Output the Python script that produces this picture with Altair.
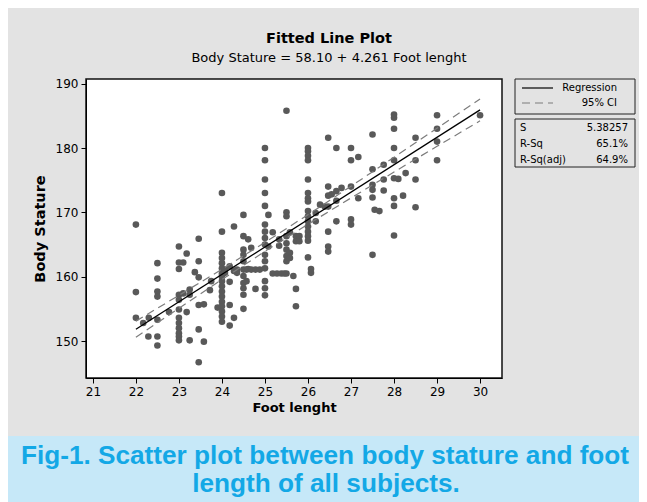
import altair as alt
import pandas as pd

# ---- data ----
foot = [
    22, 22, 22, 22.17, 22.3, 22.29,
    22.5, 22.5, 22.5, 22.5, 22.5, 22.5, 22.5, 22.77,
    23, 23, 23, 23, 23, 23, 23, 23, 23, 23, 23, 23,
    23.1, 23.1, 23.18, 23.18, 23.25, 23.25, 23.25, 23.37,
    23.46, 23.46, 23.46, 23.46, 23.46, 23.46, 23.58, 23.58, 23.72, 23.75, 23.9,
    24, 24, 24, 24, 24, 24, 24, 24, 24, 24, 24, 24, 24, 24, 24, 24, 24,
    24.07, 24.07, 24.18, 24.18, 24.18, 24.18, 24.28, 24.28, 24.28, 24.35, 24.35,
    24.5, 24.5, 24.5, 24.5, 24.5, 24.5, 24.5, 24.5, 24.5, 24.5, 24.5,
    24.57, 24.57, 24.61, 24.61, 24.68, 24.68, 24.78, 24.78, 24.88,
    25, 25, 25, 25, 25, 25, 25, 25, 25, 25, 25, 25, 25, 25, 25,
    25.08, 25.08, 25.18, 25.18, 25.28, 25.33, 25.33, 25.38, 25.45,
    25.5, 25.5, 25.5, 25.5, 25.5, 25.5, 25.5, 25.5, 25.5,
    25.58, 25.58, 25.58, 25.66, 25.72, 25.72, 25.72, 25.72, 25.8, 25.8,
    26, 26, 26, 26, 26, 26, 26, 26, 26, 26, 26, 26, 26, 26, 26, 26,
    26.07, 26.07, 26.18, 26.18, 26.28, 26.39,
    26.47, 26.47, 26.47, 26.47, 26.47, 26.47, 26.47, 26.55,
    26.66, 26.66, 26.66, 26.66, 26.78,
    27, 27, 27, 27, 27, 27.17, 27.17,
    27.5, 27.5, 27.5, 27.5, 27.5, 27.5, 27.55, 27.66, 27.76, 27.76, 27.76,
    28, 28, 28, 28, 28, 28, 28, 28, 28, 28.1, 28.21, 28.27,
    28.5, 28.5, 28.5, 28.5,
    29, 29, 29, 29,
    30,
]
stature = [
    168.1, 157.6, 153.6, 152.8, 153.6, 150.7,
    162.1, 159.7, 157.7, 156.9, 153.3, 150.7, 149.3, 154.5,
    164.7, 162.2, 161.2, 157.2, 156.4, 154.9, 153.6, 152.8, 152.0, 151.2, 150.7, 150.1,
    162.2, 157.4, 163.6, 154.5, 158.0, 157.2, 150.1, 160.7,
    165.9, 162.4, 159.9, 155.6, 151.8, 146.7, 155.7, 149.9, 157.9, 159.3, 155.2,
    173.0, 167.0, 163.7, 162.9, 162.1, 161.3, 160.5, 160.0, 159.3, 158.5, 157.7, 156.9, 156.1, 155.4, 154.6, 153.8, 153.0,
    161.1, 160.6, 161.6, 159.2, 155.6, 152.4, 167.8, 160.9, 153.6, 161.1, 160.6,
    169.6, 166.3, 164.2, 163.4, 162.4, 161.1, 160.1, 159.0, 158.2, 157.2, 155.0,
    161.1, 159.3, 165.8, 161.2, 164.5, 161.1, 161.1, 158.1, 161.1,
    180.0, 178.1, 175.1, 173.0, 171.0, 168.1, 167.0, 166.0, 165.0, 163.4, 162.4, 161.3, 159.3, 158.2, 157.1,
    169.6, 164.7, 166.9, 160.5, 160.5, 165.8, 164.8, 160.5, 160.5,
    185.8, 170.0, 169.4, 166.3, 165.2, 164.2, 163.2, 162.4, 160.5,
    166.9, 163.7, 162.9, 160.1, 166.3, 165.5, 158.1, 155.4, 166.3, 165.5,
    180.0, 179.5, 178.8, 178.1, 175.1, 173.0, 172.2, 171.7, 170.2, 169.4, 168.6, 167.8, 167.0, 166.3, 165.6, 163.0,
    161.2, 160.6, 169.9, 168.6, 171.2, 170.9,
    181.6, 174.0, 172.6, 170.9, 167.0, 164.7, 163.9, 172.8,
    180.0, 173.3, 171.8, 168.6, 173.8,
    180.0, 178.1, 174.0, 168.9, 168.1, 178.6, 172.2,
    182.1, 176.7, 174.3, 173.5, 172.3, 163.4, 170.4, 170.2, 177.4, 175.1, 173.4,
    185.2, 184.7, 183.0, 180.0, 178.1, 175.3, 172.2, 171.0, 166.4, 175.2, 172.6, 176.1,
    181.6, 178.1, 175.1, 170.8,
    185.1, 183.0, 181.0, 178.1,
    185.1,
]

# fitted line: Body Stature = 58.10 + 4.261 Foot lenght
reg_x = [22, 30]
reg_y = [151.84, 185.93]

# 95% CI band
ci_x = [22, 23, 24, 25, 26, 27, 28, 29, 30]
ci_lower = [150.59, 155.10, 159.56, 163.93, 168.14, 172.24, 176.27, 180.26, 184.23]
ci_upper = [153.09, 157.10, 161.16, 165.33, 169.64, 174.06, 178.55, 183.08, 187.63]

x_ticks = [21, 22, 23, 24, 25, 26, 27, 28, 29, 30]
y_ticks = [150, 160, 170, 180, 190]

legend_labels = ["Regression", "95% CI"]
stats_names = ["S", "R-Sq", "R-Sq(adj)"]
stats_values = ["5.38257", "65.1%", "64.9%"]

title_text = "Fitted Line Plot"
subtitle_text = "Body Stature =  58.10 + 4.261 Foot lenght"
caption_lines = ["Fig-1. Scatter plot between body stature and foot", "length of all subjects."]

# ---- chart ----
BG = "#e3e3e3"
FONT = "DejaVu Sans"
W, H = 416, 299

xscale = alt.Scale(domain=[20.84, 30.51], nice=False, zero=False)
yscale = alt.Scale(domain=[144.25, 190.73], nice=False, zero=False)

pts = pd.DataFrame({"foot": foot, "stature": stature})
points = alt.Chart(pts).mark_circle(size=44, color="#595959", opacity=1).encode(
    x=alt.X("foot:Q", scale=xscale,
            axis=alt.Axis(values=x_ticks, title="Foot lenght", titlePadding=4)),
    y=alt.Y("stature:Q", scale=yscale,
            axis=alt.Axis(values=y_ticks, title="Body Stature", titlePadding=8,
                          titleFontSize=14.5)),
)

reg = alt.Chart(pd.DataFrame({"foot": reg_x, "stature": reg_y})).mark_line(
    color="black", strokeWidth=1.3).encode(x=alt.X("foot:Q", scale=xscale), y=alt.Y("stature:Q", scale=yscale))

ci_df = pd.concat([
    pd.DataFrame({"foot": ci_x, "stature": ci_lower, "band": "lower"}),
    pd.DataFrame({"foot": ci_x, "stature": ci_upper, "band": "upper"}),
])
ci = alt.Chart(ci_df).mark_line(color="#7c7c7c", strokeWidth=1.2, strokeDash=[8, 5]).encode(
    x=alt.X("foot:Q", scale=xscale), y=alt.Y("stature:Q", scale=yscale), detail="band:N")

one = pd.DataFrame({"k": [0]})


def box(x1, x2, y1, y2, fill, stroke=None):
    kw = dict(fill=fill)
    if stroke:
        kw.update(stroke=stroke, strokeWidth=1)
    else:
        kw.update(strokeWidth=0)
    return alt.Chart(one).mark_rect(**kw).encode(
        x=alt.value(x1), x2=alt.value(x2), y=alt.value(y1), y2=alt.value(y2))


def label(txt, x, y, align="left", size=10, weight="normal", color="black", font=FONT):
    return alt.Chart(one).mark_text(align=align, baseline="middle", fontSize=size,
                                    fontWeight=weight, color=color, font=font).encode(
        x=alt.value(x), y=alt.value(y), text=alt.value(txt))


layers = [points, ci, reg]

# legend box
layers.append(box(429, 549, 0, 35, BG, "#222222"))
layers.append(alt.Chart(one).mark_rule(color="black", strokeWidth=1.2).encode(
    x=alt.value(436), x2=alt.value(467), y=alt.value(9)))
layers.append(alt.Chart(one).mark_rule(color="#7c7c7c", strokeWidth=1.2, strokeDash=[8, 5]).encode(
    x=alt.value(436), x2=alt.value(467), y=alt.value(24)))
layers.append(label(legend_labels[0], 531, 9, align="right"))
layers.append(label(legend_labels[1], 531, 24, align="right"))

# stats box
layers.append(box(429, 549, 40, 88, BG, "#222222"))
for i, (n, v) in enumerate(zip(stats_names, stats_values)):
    yy = 49 + 16 * i
    layers.append(label(n, 434, yy, align="left"))
    layers.append(label(v, 542, yy, align="right"))

# caption band
layers.append(box(-78, 553, 357, 423, "#c6e8f8"))
layers.append(label(caption_lines[0], 239, 377, align="center", size=26.2, weight="bold",
                    color="#13a8e6", font="Liberation Sans"))
layers.append(label(caption_lines[1], 240, 405, align="center", size=26.2, weight="bold",
                    color="#13a8e6", font="Liberation Sans"))

chart = alt.layer(*layers).properties(
    width=W, height=H,
    autosize=alt.AutoSizeParams(type="none"),
    padding={"left": 78, "top": 71, "right": 137, "bottom": 124},
    background=BG,
    title=alt.TitleParams(
        text=title_text, subtitle=subtitle_text, anchor="middle", dx=35, offset=12,
        font=FONT, fontSize=14.5, fontWeight="bold", color="black",
        subtitleFont=FONT, subtitleFontSize=13, subtitleColor="black", subtitlePadding=5,
    ),
).configure_view(
    fill="white", stroke="#111111", strokeWidth=1.5
).configure_axis(
    labelFont=FONT, labelFontSize=12, labelColor="black",
    titleFont=FONT, titleFontSize=13, titleFontWeight="bold", titleColor="black",
    tickColor="black", tickSize=5, domainColor="black", grid=False, labelPadding=3,
)

chart.save("out.html", embed_options={"renderer": "svg", "actions": False})
